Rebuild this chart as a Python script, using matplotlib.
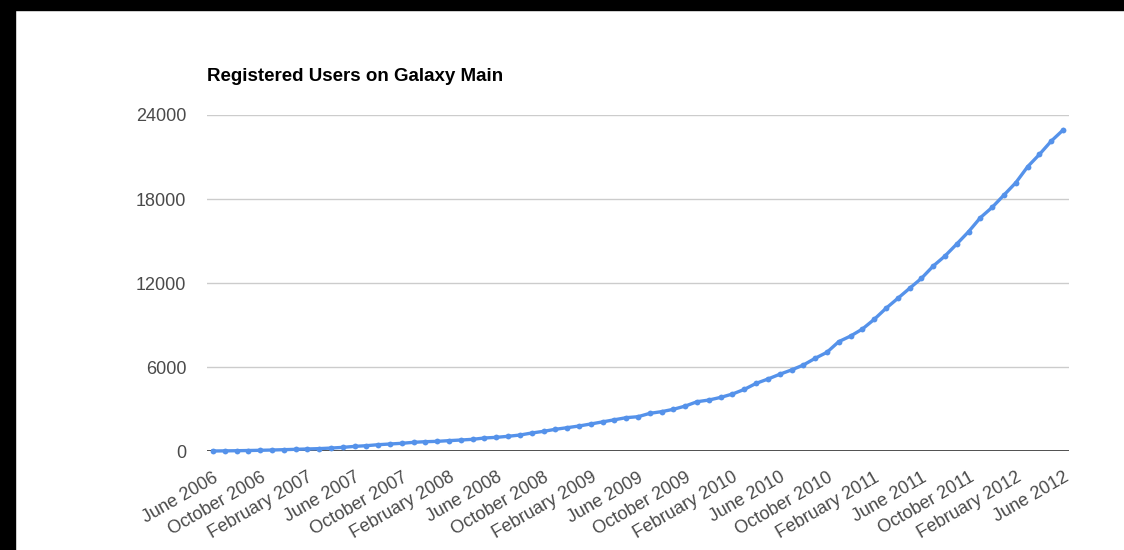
import matplotlib
matplotlib.use("Agg")
import matplotlib.pyplot as plt
from matplotlib.patches import Rectangle

MONTH_NAMES = ["January", "February", "March", "April", "May", "June", "July",
               "August", "September", "October", "November", "December"]

# monthly points, June 2006 .. June 2012
months: list[str] = []
for k in range(73):
    m = (5 + k) % 12
    y = 2006 + (5 + k) // 12
    months.append(f"{MONTH_NAMES[m]} {y}")

users = [
    0, 10, 20, 35, 50, 70, 95, 120, 145, 170, 210, 260, 330, 380, 450, 500,
    550, 620, 665, 690, 740, 785, 835, 930, 975, 1050, 1140, 1285, 1405, 1550,
    1665, 1785, 1930,
    2080, 2230,
    2380, 2450, 2690, 2810, 2980, 3210, 3520, 3640, 3830, 4070, 4400, 4830, 5140,
    5480, 5790, 6140, 6620, 7050, 7810, 8210, 8710, 9400, 10190, 10900, 11620,
    12330, 13210, 13930, 14790, 15670, 16670, 17410, 18290, 19170, 20310, 21190,
    22140, 22930,
]
y_ticks = [0, 6000, 12000, 18000, 24000]
title = "Registered Users on Galaxy Main"

plt.rcParams["font.family"] = ["Liberation Sans", "DejaVu Sans"]

fig = plt.figure(figsize=(11.24, 5.5), dpi=100)
W, H = 1124, 550

# black frame strips of the screenshot
fig.patches.append(Rectangle((0, 1 - 10 / H), 1, 10 / H, transform=fig.transFigure,
                             color="black", zorder=0))
fig.patches.append(Rectangle((0, 0), 15 / W, 1, transform=fig.transFigure,
                             color="black", zorder=0))

ax = fig.add_axes([207 / W, (H - 451) / H, (1069 - 207) / W, (451 - 115) / H])
x = list(range(len(months)))
ax.plot(x, users, color="#5592ea", lw=2.4, marker="o", ms=4.2,
        markeredgewidth=0, zorder=3, clip_on=False)

ax.set_xlim(-0.5, len(months) - 0.5)
ax.set_ylim(0, 24000)
ax.set_yticks(y_ticks)
ax.set_yticklabels([str(v) for v in y_ticks])
ax.yaxis.grid(True, color="#cccccc", lw=1)
ax.axhline(0, color="#333333", lw=1.2, zorder=2)
ax.set_axisbelow(True)
for s in ax.spines.values():
    s.set_visible(False)

ax.set_xticks(x[::4])
ax.set_xticklabels(months[::4], rotation=30, ha="right", rotation_mode="anchor")
ax.tick_params(axis="both", length=0, labelsize=13, labelcolor="#4a4a4a")
ax.tick_params(axis="y", pad=15)
ax.tick_params(axis="x", pad=13)

fig.text(207 / W, 1 - 81 / H, title, fontsize=13.5, fontweight="bold",
         color="#000000", va="baseline", ha="left")

fig.savefig("out.png", dpi=100, facecolor="white")
